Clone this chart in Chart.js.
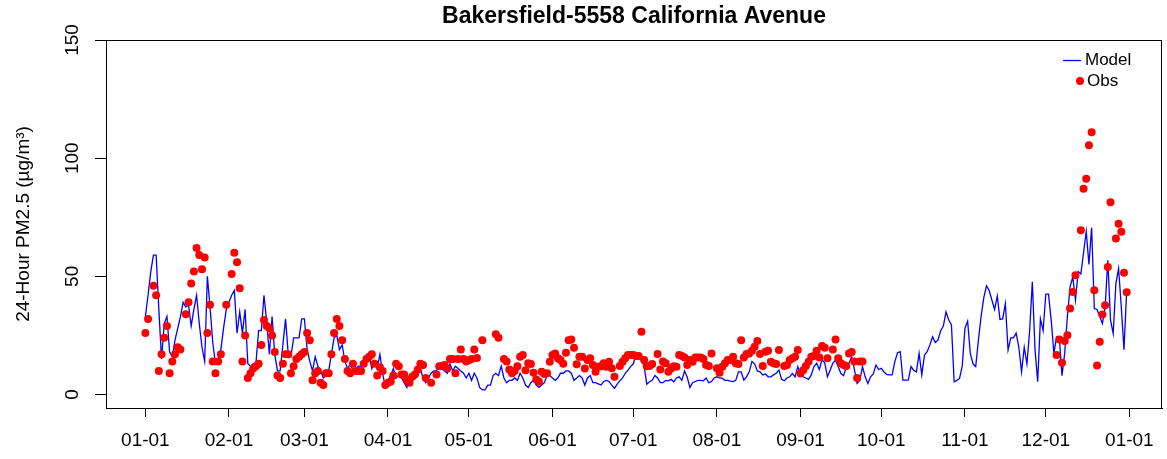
<!DOCTYPE html>
<html lang="en">
<head>
  <meta charset="UTF-8" />
  <title>Bakersfield-5558 California Avenue</title>
  <script src="https://cdn.jsdelivr.net/npm/chart.js"></script>
  <style>
    body { margin: 0; background: #fff; }
    #wrap { width: 1167px; height: 459px; position: relative; }
  </style>
</head>
<body>
<div id="wrap"><canvas id="chart"></canvas></div>
<script>
  // day-of-year where each month starts, and the date ticks on the x axis
  const monthStart = [0, 31, 59, 90, 120, 151, 181, 212, 243, 273, 304, 334];
  const tickDays = [0, 31, 59, 90, 120, 151, 181, 212, 243, 273, 304, 334, 365];
  const tickLabels = ['01-01', '02-01', '03-01', '04-01', '05-01', '06-01', '07-01',
                      '08-01', '09-01', '10-01', '11-01', '12-01', '01-01'];
  const yTicks = [0, 50, 100, 150];

  // modelled 24-hour PM2.5, one value per day
  const modelJan = [33, 42, 52, 59, 59, 36, 15, 30, 33, 18, 16, 23, 28, 33, 39, 37, 38, 29, 36, 42, 30, 20, 14, 50, 37, 22, 13, 15, 19, 28, 36];
  const modelFeb = [39, 42, 44, 26, 35, 26, 36, 13, 12, 13, 13, 27, 27, 42, 31, 17, 33, 17, 10, 10, 21, 32, 17, 16, 24, 24, 24, 32];
  const modelMar = [32, 19, 14, 10, 16, 12, 10, 7, 8, 10, 17, 24, 25, 19, 21, 14, 11, 13, 10, 11, 12, 12, 13, 15, 17, 11, 14, 11, 17, 9, 3];
  const modelApr = [6, 8, 11, 7, 8, 7, 5, 3, 8, 6, 7, 8, 11, 7, 5, 7, 9, 10, 10, 12, 11, 10, 9, 13, 10, 12, 11, 10, 9, 7];
  const modelMay = [9, 6, 9, 7, 3, 2, 2, 4, 4, 8, 9, 8, 12, 7, 5, 6, 6, 7, 6, 9, 7, 4, 3, 5, 6, 4, 3, 4, 5, 8, 8];
  const modelJun = [7, 6, 7, 9, 9, 10, 10, 9, 6, 7, 8, 7, 4, 7, 8, 5, 5, 4.5, 4, 5.5, 6, 5.5, 4, 2.6, 4.4, 5.8, 7, 9, 10.3, 11.8];
  const modelJul = [13, 17, 16, 14.6, 12, 4.4, 5.4, 6, 8, 7, 5, 5, 6, 5.8, 6.4, 5.4, 7, 7.5, 6, 10, 7.3, 3, 5, 5.5, 6, 6, 5.8, 7, 5, 5.5, 7];
  const modelAug = [7.5, 7, 6.8, 6, 6, 5.7, 5.5, 6, 9.6, 9.6, 6.1, 7.5, 9.6, 14, 13, 10, 9.6, 8.3, 8.7, 7.5, 7.5, 8.3, 9, 10.3, 6.4, 5.8, 7, 7.5, 8.9, 7.5, 11.8];
  const modelSep = [8.7, 7.5, 7, 6.4, 8.3, 11.8, 13.2, 10.6, 14.8, 13.4, 7.5, 10.3, 13.2, 14.6, 11.8, 8.9, 8, 11.8, 13.2, 16, 10.6, 4.7, 6, 11.8, 7.5, 4.7, 7.5, 8.7, 12.5, 10.6];
  const modelOct = [11.1, 9.5, 8.5, 8.3, 8.3, 13.9, 17.7, 18.1, 6.1, 6.1, 6.1, 11.8, 10.3, 9.6, 17.4, 8.3, 16.7, 18.1, 21, 24.4, 22, 23, 27, 29, 35, 31.5, 29.4, 5.4, 6, 6.8, 12];
  const modelNov = [28, 31, 17.4, 13, 11.8, 23, 33, 41, 46, 44, 40, 36, 41.6, 31.8, 32, 38.5, 18.8, 24, 24, 26, 20, 9.6, 20, 13, 27, 47.7, 19, 5.4, 32, 27];
  const modelDec = [42.5, 42.5, 31.5, 17.4, 24.4, 24.4, 8, 17.4, 33, 45.6, 49.8, 40, 52, 51, 60, 69, 55, 70.6, 36.4, 36, 33, 30, 37, 56.8, 31.5, 25.8, 47, 53.3, 37, 19, 44];

  // monitor observations, null where no sample was taken
  const obsJan = [26, 32, null, 46, 42, 10, 17, 24, 29, 9, 14, 17, 20, 19, null, 34, 39, 47, 52, 62, 59, 53, 58, 26, 38, 14, 9, 14, 17, null, 38];
  const obsFeb = [null, 51, 60, 56, 45, 14, 25, 7, 9, 11, 12, 13, 21, 31.5, 29, 28, 25, 18, 8, 7, 13, 17, 17, 9, 12, 15, 16, 17];
  const obsMar = [18, 26, 23, 6, 9, 10, 5, 4, 9, 9, 17, 26, 32, 29, 23, 15, 10, 9, 13, 10, 10, 10, 13, 15, 16, 17, 13, 8, 11.5, 10, 4];
  const obsApr = [5, 5.5, 8, 13, 12, 8.5, 8.5, 6, 5, 7.5, 8.5, 10.5, 13, 12.5, 7, null, 5, null, 8.5, 12, 12, 12.5, 11, 15, 15, 9, 15, 19, 15, 14];
  const obsMay = [14.5, 15, 19, 15.5, null, 23, null, null, null, null, 25.5, 24, null, 15, 14, 10.6, 9, 10, 12, 16, 16.7, 10.3, 13.2, 12.9, 9.2, 6.4, 5.4, 9.6, 8.7, 9, 13.9];
  const obsJun = [16.7, 17.4, 15.3, 14.6, 13, 17.7, 23, 23.3, 19.8, 12.8, 16, 16, 11, 14.6, 15.4, 12.5, 9.6, 11.8, 12, 13.2, 11.8, 13.9, 11.1, 7.5, null, 12.1, 13.9, 15.4, 16.7, 16.7];
  const obsJul = [16.7, 16.3, 16.3, 26.6, 14.6, 12, 12.1, 12.9, null, 17.1, 10.6, 14, 13.2, 9.6, 11, 12, 11.8, 16.7, 16.3, 15.7, 12.5, 14.6, 13.9, 15.7, 15.7, 15.7, 15, 12.5, 12.1, 17.4, null];
  const obsAug = [11.1, 9.2, 11.8, 13.2, 14.6, 14.6, 16, 13.2, 12.9, 23, 15.7, 17.1, 17.4, 18.5, 20.2, 22.7, 17.1, 12.1, 18.1, 18.5, 13.9, 13.2, 12.9, 18.8, null, 12.1, 12.5, 14.6, 15.3, 16, 18.8];
  const obsSep = [8.9, 10.3, 12.1, 13.9, 16, 16.3, 18.5, 15.7, 20.5, 19.8, 15.3, null, 19.1, 23.3, 15.3, 13.2, 12.5, 12.1, 17.4, 18, 14, 7, 14, 14];
  const obsOct = [];
  const obsNov = [];
  const obsDec = [null, null, null, null, 16.7, 23.3, 13.4, 22.7, 25.1, 36.4, 43.4, 50.5, null, 69.5, 87.1, 91.3, 105.5, 111, 44.1, 12.3, 22.3, 33.9, 37.8, 54, 81.3, null, 66, 72.3, 68.9, 51.5, 43.3];

  const modelMonths = [modelJan, modelFeb, modelMar, modelApr, modelMay, modelJun,
                       modelJul, modelAug, modelSep, modelOct, modelNov, modelDec];
  const obsMonths = [obsJan, obsFeb, obsMar, obsApr, obsMay, obsJun,
                     obsJul, obsAug, obsSep, obsOct, obsNov, obsDec];

  function toPoints(months) {
    const pts = [];
    months.forEach((vals, m) => {
      vals.forEach((v, i) => {
        if (v !== null) pts.push({ x: monthStart[m] + i, y: v });
      });
    });
    return pts;
  }

  const FONT = "'Liberation Sans', Arial, Helvetica, sans-serif";

  // R-style closed box round the plot region
  const frame = {
    id: 'frame',
    afterDraw(chart) {
      const { ctx, chartArea: a } = chart;
      ctx.save();
      ctx.strokeStyle = '#000';
      ctx.lineWidth = 1;
      ctx.strokeRect(Math.round(a.left) + 0.5, Math.round(a.top) + 0.5,
                     Math.round(a.right - a.left) - 1, Math.round(a.bottom - a.top));
      ctx.restore();
    }
  };

  // borderless legend in the top-right corner
  const cornerLegend = {
    id: 'cornerLegend',
    afterDraw(chart) {
      const { ctx } = chart;
      ctx.save();
      ctx.strokeStyle = '#0000ff';
      ctx.lineWidth = 1.3;
      ctx.beginPath();
      ctx.moveTo(1063, 60.5);
      ctx.lineTo(1081, 60.5);
      ctx.stroke();
      ctx.fillStyle = '#ff0000';
      ctx.beginPath();
      ctx.arc(1080, 81, 4, 0, Math.PI * 2);
      ctx.fill();
      ctx.fillStyle = '#000';
      ctx.font = '17px ' + FONT;
      ctx.textBaseline = 'middle';
      ctx.textAlign = 'left';
      ctx.fillText('Model', 1085, 60);
      ctx.fillText('Obs', 1087, 81);
      ctx.restore();
    }
  };

  new Chart(document.getElementById('chart'), {
    type: 'line',
    data: {
      datasets: [
        {
          label: 'Model',
          data: toPoints(modelMonths),
          borderColor: '#0000ff',
          borderWidth: 1.3,
          pointRadius: 0,
          tension: 0,
          fill: false,
          order: 2
        },
        {
          label: 'Obs',
          data: toPoints(obsMonths),
          showLine: false,
          pointRadius: 4,
          pointBorderWidth: 0,
          pointBackgroundColor: '#ff0000',
          pointBorderColor: '#ff0000',
          order: 1
        }
      ]
    },
    options: {
      responsive: true,
      maintainAspectRatio: false,
      animation: false,
      layout: { padding: { left: 0, right: 5, top: 0, bottom: 0 } },
      plugins: {
        legend: { display: false },
        tooltip: { enabled: false },
        title: {
          display: true,
          fullSize: false,
          text: 'Bakersfield-5558 California Avenue',
          color: '#000',
          font: { family: FONT, size: 23, weight: 'bold' },
          padding: { top: 3, bottom: 9.4 }
        }
      },
      scales: {
        x: {
          type: 'linear',
          min: -14.6,
          max: 377.1,
          afterBuildTicks: s => { s.ticks = tickDays.map(v => ({ value: v })); },
          afterFit: s => { s.height = 51; },
          border: { display: true, color: '#000' },
          grid: { drawOnChartArea: false, drawTicks: true, tickLength: 9, tickColor: '#000' },
          ticks: {
            autoSkip: false,
            maxRotation: 0,
            padding: 12,
            color: '#000',
            font: { family: FONT, size: 19 },
            callback: (v, i) => tickLabels[i]
          }
        },
        y: {
          min: -5.7,
          max: 150,
          afterBuildTicks: s => { s.ticks = yTicks.map(v => ({ value: v })); },
          afterFit: s => { s.width = 106; },
          border: { display: true, color: '#000' },
          grid: { drawOnChartArea: false, drawTicks: true, tickLength: 11, tickColor: '#000' },
          ticks: {
            minRotation: 90,
            maxRotation: 90,
            crossAlign: 'center',
            padding: 6,
            color: '#000',
            font: { family: FONT, size: 19 }
          },
          title: {
            display: true,
            text: '24-Hour PM2.5 (µg/m³)',
            color: '#000',
            font: { family: FONT, size: 19 },
            padding: { top: 12.6, bottom: 0 }
          }
        }
      }
    },
    plugins: [frame, cornerLegend]
  });
</script>
</body>
</html>
